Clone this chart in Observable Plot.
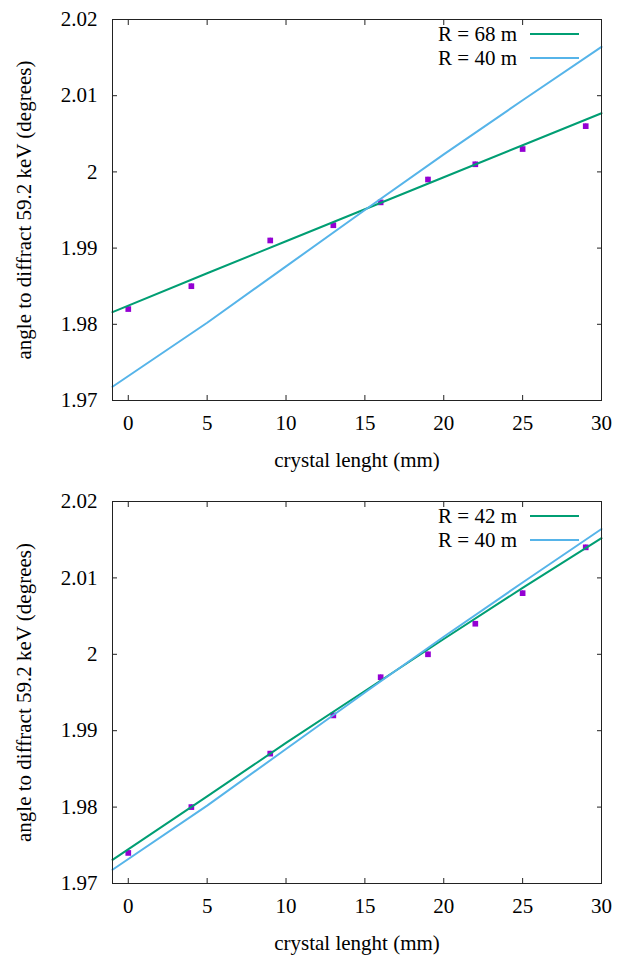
<!DOCTYPE html>
<html><head><meta charset="utf-8">
<script src="https://cdn.jsdelivr.net/npm/d3@7"></script>
<script src="https://cdn.jsdelivr.net/npm/@observablehq/plot@0.6"></script>
<style>
body{margin:0;background:#fff;}
.panel{position:relative;width:617px;}
.leg{position:absolute;font-family:"Liberation Serif","Times New Roman",serif;font-size:21px;line-height:24px;color:#000;white-space:nowrap;text-align:right;}
.sw{position:absolute;height:2px;}
</style></head><body><div id="chart"></div>
<script>
// axis ticks and labels
const xTicks = [0, 5, 10, 15, 20, 25, 30];
const yTicks = [1.97, 1.98, 1.99, 2.00, 2.01, 2.02];
const yTickLabels = ["1.97", "1.98", "1.99", "2", "2.01", "2.02"];
const xLabel = "crystal lenght (mm)";
const yLabel = "angle to diffract 59.2 keV (degrees)";

// measured points
const lengths = [0, 4, 9, 13, 16, 19, 22, 25, 29];
const anglesTop = [1.982, 1.985, 1.991, 1.993, 1.996, 1.999, 2.001, 2.003, 2.006];
const anglesBottom = [1.974, 1.980, 1.987, 1.992, 1.997, 2.000, 2.004, 2.008, 2.014];
const errs = [0.0003, 0.0003, 0.0003, 0.0003, 0.0003, 0.0003, 0.0003, 0.0003, 0.0003];

// model curves
const fitX = [-1, 5, 10, 15, 20, 25, 30];
const fitR68 = [1.9816, 1.9867, 1.9909, 1.9951, 1.9993, 2.0035, 2.0077];
const fitR42 = [1.9731, 1.9814, 1.9884, 1.9952, 2.0020, 2.0087, 2.0152];
const fitR40 = [1.9718, 1.9802, 1.9876, 1.9950, 2.0023, 2.0094, 2.0164];

const legendTop = ["R = 68 m", "R = 40 m"];
const legendBottom = ["R = 42 m", "R = 40 m"];
const green = "#009e73", blue = "#56b4e9", purple = "#9400d3";

function panel(pointsY, curveA, curveB, labels, height, mTop, mBottom) {
  const pts = lengths.map((x, i) => ({x, y: pointsY[i], e: errs[i]}));
  const cA = fitX.map((x, i) => ({x, y: curveA[i]}));
  const cB = fitX.map((x, i) => ({x, y: curveB[i]}));
  const W = 617, mLeft = 112, mRight = 16;
  const svg = Plot.plot({
    width: W, height,
    marginLeft: mLeft, marginRight: mRight, marginTop: mTop, marginBottom: mBottom,
    style: {fontFamily: '"Liberation Serif","Times New Roman",serif', fontSize: "21px", color: "#000", background: "#fff", overflow: "visible"},
    x: {domain: [-1, 30]},
    y: {domain: [1.97, 2.02]},
    marks: [
      Plot.ruleX(pts, {x: "x", y1: d => d.y - d.e, y2: d => d.y + d.e, stroke: purple, strokeWidth: 1}),
      Plot.dot(pts, {x: "x", y: "y", symbol: "square", r: 3.2, fill: purple, stroke: null}),
      Plot.line(cA, {x: "x", y: "y", stroke: green, strokeWidth: 2}),
      Plot.line(cB, {x: "x", y: "y", stroke: blue, strokeWidth: 2}),
      Plot.frame({stroke: "#222", strokeWidth: 1}),
      Plot.axisX({anchor: "bottom", ticks: xTicks, tickSize: -5, tickPadding: 20, label: null, stroke: "#222", fill: "#000"}),
      Plot.axisX({anchor: "top", ticks: xTicks, tickSize: -5, tickFormat: () => "", label: null, stroke: "#222"}),
      Plot.axisY({anchor: "left", ticks: yTicks, tickSize: -5, tickPadding: 20, tickFormat: (d, i) => yTickLabels[i], label: null, stroke: "#222", fill: "#000"}),
      Plot.axisY({anchor: "right", ticks: yTicks, tickSize: -5, tickFormat: () => "", label: null, stroke: "#222"}),
      Plot.text([yLabel], {frameAnchor: "left", dx: -88, rotate: -90, textAnchor: "middle", lineAnchor: "middle", fill: "#000"}),
      Plot.text([xLabel], {frameAnchor: "bottom", dy: 60, textAnchor: "middle", lineAnchor: "middle", fill: "#000"})
    ]
  });
  const div = document.createElement("div");
  div.className = "panel";
  div.style.height = height + "px";
  div.appendChild(svg);
  const colors = [green, blue];
  labels.forEach((t, i) => {
    const cy = mTop + 15 + i * 24;
    const lab = document.createElement("div");
    lab.className = "leg";
    lab.textContent = t;
    lab.style.right = (W - 517) + "px";
    lab.style.top = (cy - 12) + "px";
    div.appendChild(lab);
    const sw = document.createElement("div");
    sw.className = "sw";
    sw.style.left = "530px";
    sw.style.width = "49px";
    sw.style.top = (cy - 1) + "px";
    sw.style.background = colors[i];
    div.appendChild(sw);
  });
  return div;
}

const root = document.getElementById("chart");
root.appendChild(panel(anglesTop, fitR68, fitR40, legendTop, 478, 19, 78));
root.appendChild(panel(anglesBottom, fitR42, fitR40, legendBottom, 479, 23, 74));
</script>
</body></html>
